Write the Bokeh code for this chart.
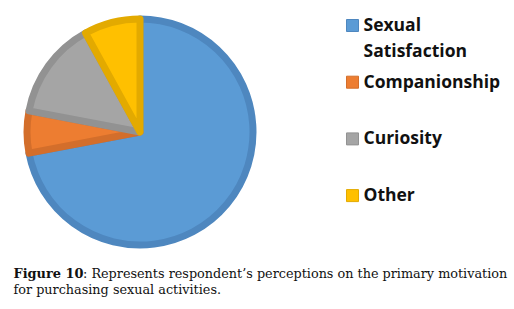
import numpy as np
from bokeh.plotting import figure
from bokeh.models import Range1d, ColumnDataSource
from bokeh.core.properties import value
from bokeh.embed import file_html
from bokeh.resources import INLINE

# ---- data ----
categories = ["Sexual Satisfaction", "Companionship", "Curiosity", "Other"]
shares = [72, 6, 14, 8]
fill_colors = ["#5B9BD5", "#ED7D31", "#A5A5A5", "#FFC000"]
line_colors = ["#4E87BF", "#D36E2B", "#929292", "#E3AA00"]
caption_bold = "Figure 10"
caption_line1 = ": Represents respondent\u2019s perceptions on the primary motivation"
caption_line2 = "for purchasing sexual activities."

W, H = 514, 309
def sy(y):  # screen y -> data y
    return H - y
def sx(x):
    return x

p = figure(width=W, height=H, output_backend="svg", toolbar_location=None,
           x_range=Range1d(0, W), y_range=Range1d(0, H), min_border=0,
           background_fill_color="white", border_fill_color="white")
p.axis.visible = False
p.grid.visible = False
p.outline_line_color = None

# ---- pie ----
vals = np.array(shares, dtype=float)
frac = vals / vals.sum()
cum = np.concatenate([[0], np.cumsum(frac)])
start = np.pi / 2 - cum[1:] * 2 * np.pi
end = np.pi / 2 - cum[:-1] * 2 * np.pi
cx, cy, r = sx(139.5), sy(131.5), 113
src = ColumnDataSource(dict(start=start, end=end, fill=fill_colors, line=line_colors,
                            label=categories))
p.wedge(x=cx, y=cy, radius=r, start_angle="start", end_angle="end",
        direction="anticlock", fill_color="fill", line_color="line",
        line_width=7, line_join="round", source=src)

# ---- legend ----
n = len(categories)
row_y = [25 + 56.7 * i for i in range(n)]
p.rect(x=[sx(352)] * n, y=[sy(v) for v in row_y], width=12, height=12,
       fill_color=fill_colors, line_color=line_colors, line_width=1)
tx, ty, tt = [], [], []
for lab, yy in zip(categories, row_y):
    parts = lab.split(" ") if lab == "Sexual Satisfaction" else [lab]
    for k, part in enumerate(parts):
        tx.append(sx(363)); ty.append(sy(yy - 1.5 + 25.5 * k)); tt.append(part)
p.text(x=tx, y=ty, text=tt, text_font=value("Open Sans"), text_font_style="bold",
       text_font_size="17.5px", text_color="#111111", text_baseline="alphabetic")

# ---- caption ----
p.text(x=[sx(13)], y=[sy(273)], text=[caption_bold], text_font=value("DejaVu Serif"),
       text_font_style="bold", text_font_size="12.9px", text_color="#111111",
       text_baseline="alphabetic")
p.text(x=[sx(82.5)], y=[sy(273)], text=[caption_line1], text_font=value("DejaVu Serif"),
       text_font_size="12.8px", text_color="#111111", text_baseline="alphabetic")
p.text(x=[sx(13)], y=[sy(288.5)], text=[caption_line2], text_font=value("DejaVu Serif"),
       text_font_size="12.8px", text_color="#111111", text_baseline="alphabetic")

open("out.html", "w").write(file_html(p, INLINE))
